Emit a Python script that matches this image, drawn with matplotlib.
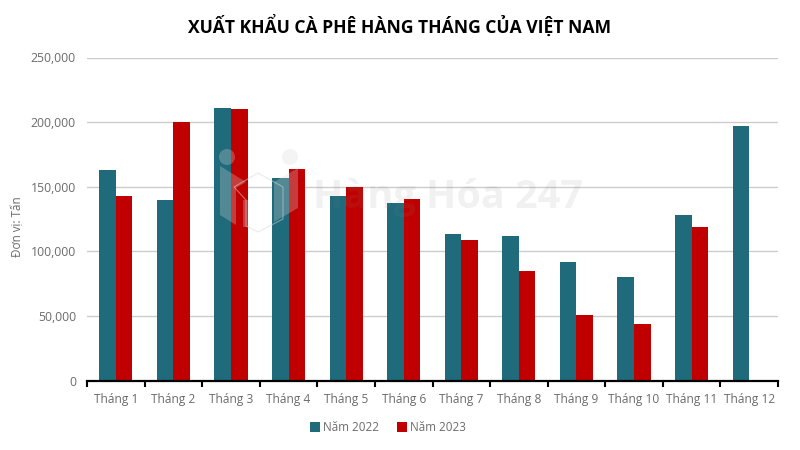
import matplotlib
matplotlib.use("Agg")
import matplotlib.pyplot as plt
from matplotlib.patches import Circle, Polygon
from matplotlib.transforms import Affine2D
from matplotlib.ticker import FuncFormatter
import numpy as np

months = ["Tháng 1", "Tháng 2", "Tháng 3", "Tháng 4", "Tháng 5", "Tháng 6",
          "Tháng 7", "Tháng 8", "Tháng 9", "Tháng 10", "Tháng 11", "Tháng 12"]
nam_2022 = [163000, 139500, 211000, 157000, 142500, 137500,
            113500, 112000, 92000, 80000, 128000, 197000]
nam_2023 = [142500, 200000, 210000, 163500, 149500, 140500,
            109000, 85000, 51000, 43500, 119000, 0]

plt.rcParams['font.family'] = ['Open Sans', 'DejaVu Sans']

fig = plt.figure(figsize=(8, 4.5), dpi=100)
ax = fig.add_axes([87 / 800, 69.5 / 450, 691 / 800, 323 / 450])

x = np.arange(len(months))
w = 0.288
ax.bar(x - w / 2, nam_2022, w, color="#1f6b7c", label="Năm 2022", zorder=3)
ax.bar(x + w / 2, nam_2023, w, color="#c00000", label="Năm 2023", zorder=3)

ax.set_xlim(-0.5, 11.5)
ax.set_ylim(0, 250000)
ax.set_yticks([0, 50000, 100000, 150000, 200000, 250000])
ax.yaxis.set_major_formatter(FuncFormatter(lambda v, p: f"{int(v):,}"))
ax.grid(axis="y", color="#cccccc", lw=1, zorder=0)
ax.set_axisbelow(True)

for s in ["top", "right", "left"]:
    ax.spines[s].set_visible(False)
ax.spines["bottom"].set_linewidth(1.6)
ax.spines["bottom"].set_color("black")
ax.spines["bottom"].set_zorder(5)

ax.set_xticks(x, months)
# ticks sit between the groups
ax.set_xticks(np.arange(-0.5, 12), minor=True)
ax.tick_params(axis="x", which="major", length=0, pad=9, labelsize=8.6, labelcolor="#6b6b6b")
ax.tick_params(axis="x", which="minor", length=4, width=1.5, color="black", direction="out")
ax.tick_params(axis="y", length=0, pad=8, labelsize=8.8, labelcolor="#6b6b6b")

fig.text(18 / 800, 1 - 227 / 450, "Đơn vị: Tấn", rotation=90, ha="center", va="center",
         fontsize=8.4, color="#6b6b6b")
fig.text(400 / 800, 1 - 26 / 450, "XUẤT KHẨU CÀ PHÊ HÀNG THÁNG CỦA VIỆT NAM",
         ha="center", va="center", fontsize=12.6, fontweight="bold", color="black")

fig.legend(loc="center", bbox_to_anchor=(388 / 800, 1 - 427.5 / 450), ncol=2, frameon=False,
           fontsize=8.4, labelcolor="#6b6b6b", handlelength=0.85, handleheight=0.85,
           handletextpad=0.3, columnspacing=1.5)

# watermark, in pixels from the top left
px = Affine2D().scale(1, -1).translate(0, 450)
wm = dict(transform=px, facecolor="#d8d8d8", edgecolor="none", alpha=0.28, zorder=10)
fig.add_artist(Circle((227, 157), 8, **wm))
fig.add_artist(Circle((290, 157), 8, **wm))
fig.add_artist(Polygon([(220, 166), (246, 182), (236, 188), (236, 225), (220, 215)], **wm))
fig.add_artist(Polygon([(298, 168), (274, 182), (274, 222), (298, 208)], **wm))
fig.add_artist(Polygon([(243, 200), (248, 200), (248, 227), (243, 227)], **wm))
fig.add_artist(Polygon([(258, 173), (283, 187), (283, 219), (258, 232), (246, 226), (246, 200),
                        (234, 187)], closed=True, transform=px, facecolor="none",
                       edgecolor="#d8d8d8", lw=0.8, alpha=0.5, zorder=10))
fig.text(448 / 800, 1 - 197 / 450, "Hàng Hóa 247", ha="center", va="center", fontsize=28.5,
         fontweight="bold", color="#808080", alpha=0.11, zorder=10)

fig.savefig("out.png", dpi=100)
